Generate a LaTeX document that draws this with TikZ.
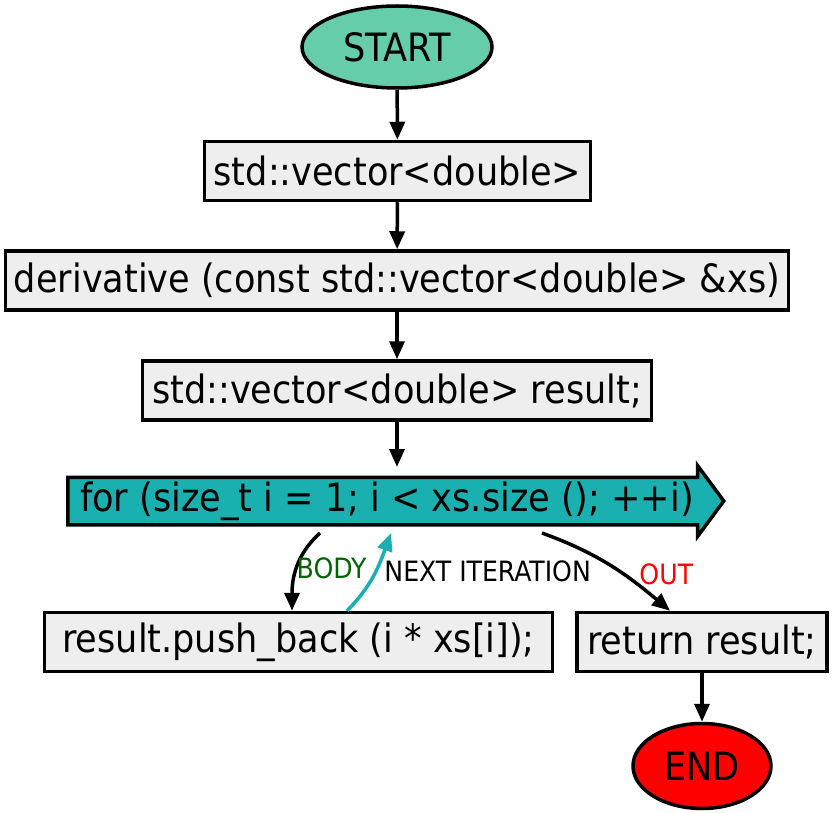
\documentclass[tikz,border=0pt]{standalone}
\usepackage{fontspec}
\setmainfont{DejaVu Sans Condensed}
\usepackage{tikz}
\usetikzlibrary{shapes.geometric, shapes.arrows, arrows.meta}
\definecolor{startcol}{RGB}{102,205,170}
\definecolor{boxcol}{RGB}{238,238,238}
\definecolor{loopcol}{RGB}{26,176,176}
\definecolor{bodycol}{RGB}{0,100,0}

\begin{document}
\begin{tikzpicture}[x=1pt, y=1pt,
    box/.style={rectangle, draw, line width=3.5pt, fill=boxcol, minimum height=59pt, inner sep=0pt, font=\fontsize{39}{41}\selectfont},
    term/.style={ellipse, draw, line width=3.5pt, inner sep=0pt, font=\fontsize{39}{41}\selectfont},
    flow/.style={line width=3.5pt, -{Triangle[length=18pt, width=15pt]}},
    lbl/.style={inner sep=0pt, anchor=west, font=\fontsize{28}{30}\selectfont}]
        \useasboundingbox (0,0) rectangle (833,-813);

        % Nodes
        \node[term, fill=startcol, minimum width=190pt, minimum height=82pt] (start) at (397,-47) {START};
        \node[box, minimum width=386pt] (ret) at (397.5,-171) {std::vector<double>};
        \node[box, minimum width=783pt] (func) at (397,-280.5) {derivative (const std::vector<double> \&xs)};
        \node[box, minimum width=509pt] (init) at (397,-390.5) {std::vector<double> result;};
        \node[single arrow, draw, fill=loopcol, line width=3.5pt, inner xsep=0pt, inner ysep=2pt,
              text height=30pt, text depth=10pt, minimum height=656pt,
              single arrow head extend=11.5pt, single arrow tip angle=107,
              font=\fontsize{39}{41}\selectfont] (loop) at (387,-501) {for (size\_t i = 1; i < xs.size (); ++i)};
        \node[box, minimum width=508pt] (push) at (298.5,-642) {result.push\_back (i * xs[i]);};
        \node[box, minimum width=250pt] (done) at (702,-642) {return result;};
        \node[term, fill=red, minimum width=138pt, minimum height=85pt] (end) at (702,-766) {END};

        % Lines
        \draw[flow] (start) -- (ret);
        \draw[flow] (ret) -- (func);
        \draw[flow] (func) -- (init);
        \draw[flow] (init) -- ([shift={(10,34)}]loop.center);
        \draw[flow] ([shift={(-67,-32)}]loop.center) to[out=222, in=90]
            node[lbl, text=bodycol, pos=0.5, xshift=-2pt] {BODY} ([xshift=-6.5pt]push.north);
        \draw[flow, draw=loopcol, -{Triangle[length=18pt, width=15pt, fill=loopcol]}] ([xshift=48.5pt]push.north) to[out=45, in=250]
            node[lbl, pos=0.55, xshift=7pt] {NEXT ITERATION} ([shift={(4,-32)}]loop.center);
        \draw[flow] ([shift={(155,-32)}]loop.center) to[out=-20, in=140]
            node[lbl, text=red, pos=0.62, xshift=14pt] {OUT} ([xshift=-32pt]done.north);
        \draw[flow] (done) -- (end);
\end{tikzpicture}
\end{document}
